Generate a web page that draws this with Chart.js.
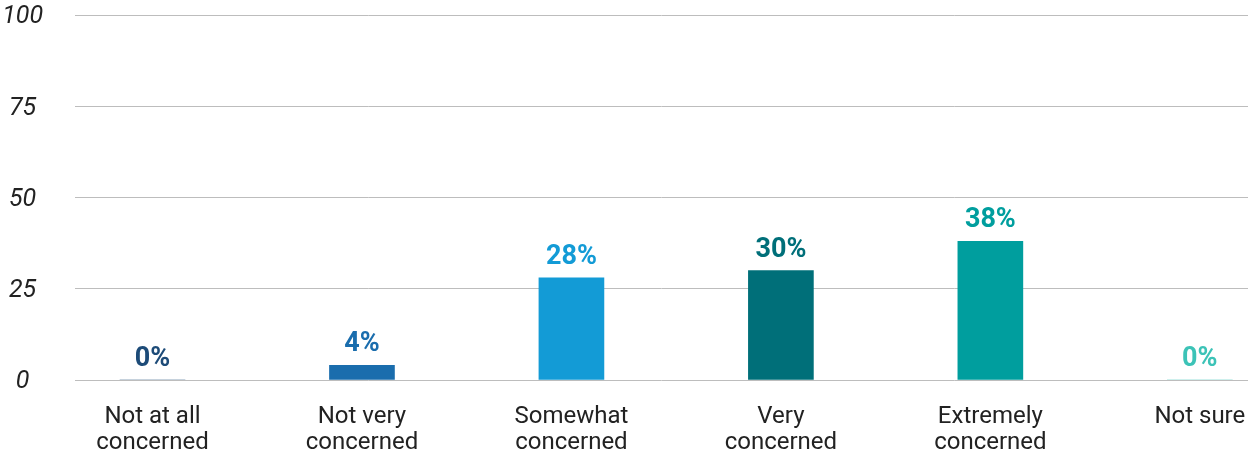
<!DOCTYPE html>
<html>
<head>
<meta charset="utf-8">
<script src="https://cdn.jsdelivr.net/npm/chart.js@4/dist/chart.umd.min.js"></script>
<style>
  html, body { margin: 0; padding: 0; background: #fff; }
  #wrap { width: 1248px; height: 451px; position: relative; }
</style>
</head>
<body>
<div id="wrap"><canvas id="chart"></canvas></div>
<script>
// data
const categories = [
    ['Not at all', 'concerned'],
    ['Not very', 'concerned'],
    ['Somewhat', 'concerned'],
    ['Very', 'concerned'],
    ['Extremely', 'concerned'],
    ['Not sure']
];
const values = [0, 4, 28, 30, 38, 0];
const yTicks = [0, 25, 50, 75, 100];
const barColors = ['#1d4b78', '#1a6dad', '#139bd6', '#006f79', '#009e9e', '#3cc3b7'];

// draws "NN%" above each bar
const valueLabels = {
    id: 'valueLabels',
    afterDatasetsDraw(chart) {
        const ctx = chart.ctx;
        const meta = chart.getDatasetMeta(0);
        ctx.save();
        ctx.font = 'bold 27px Roboto';
        ctx.textAlign = 'center';
        ctx.textBaseline = 'alphabetic';
        meta.data.forEach((bar, i) => {
            ctx.fillStyle = barColors[i];
            ctx.fillText(values[i] + '%', bar.x, bar.y - 14);
        });
        ctx.restore();
    }
};

const ctx = document.getElementById('chart').getContext('2d');
new Chart(ctx, {
    type: 'bar',
    data: {
        datasets: [{
            data: values.map((v, i) => ({ x: i, y: v })),
            backgroundColor: barColors,
            barThickness: 65,
            borderWidth: 0
        }]
    },
    options: {
        responsive: true,
        maintainAspectRatio: false,
        animation: false,
        layout: { padding: { top: 15, right: 0, bottom: 0, left: 0 } },
        plugins: {
            legend: { display: false },
            tooltip: { enabled: false }
        },
        scales: {
            x: {
                type: 'linear',
                offset: false,
                // categories are not evenly spaced in the original, this fits them best
                min: -0.37,
                max: 5.23,
                afterBuildTicks: axis => {
                    axis.ticks = categories.map((c, i) => ({ value: i }));
                },
                afterFit: axis => {
                    axis.height = 71;
                    axis.paddingLeft = 0;
                    axis.paddingRight = 0;
                },
                grid: { display: false },
                border: { display: false },
                ticks: {
                    autoSkip: false,
                    maxRotation: 0,
                    padding: 16,
                    color: '#222',
                    font: { family: 'Roboto', size: 24, lineHeight: 1.08 },
                    callback: value => categories[value]
                }
            },
            y: {
                min: 0,
                max: 100,
                afterBuildTicks: axis => {
                    axis.ticks = yTicks.map(v => ({ value: v }));
                },
                afterFit: axis => {
                    axis.width = 75;
                    axis.paddingTop = 0;
                    axis.paddingBottom = 0;
                },
                grid: { color: '#bdbdbd', lineWidth: 1, drawTicks: false },
                border: { display: false },
                ticks: {
                    crossAlign: 'center',
                    padding: 32,
                    labelOffset: 2,
                    color: '#222',
                    font: { family: 'Roboto', size: 25, style: 'italic' }
                }
            }
        }
    },
    plugins: [valueLabels]
});
</script>
</body>
</html>
